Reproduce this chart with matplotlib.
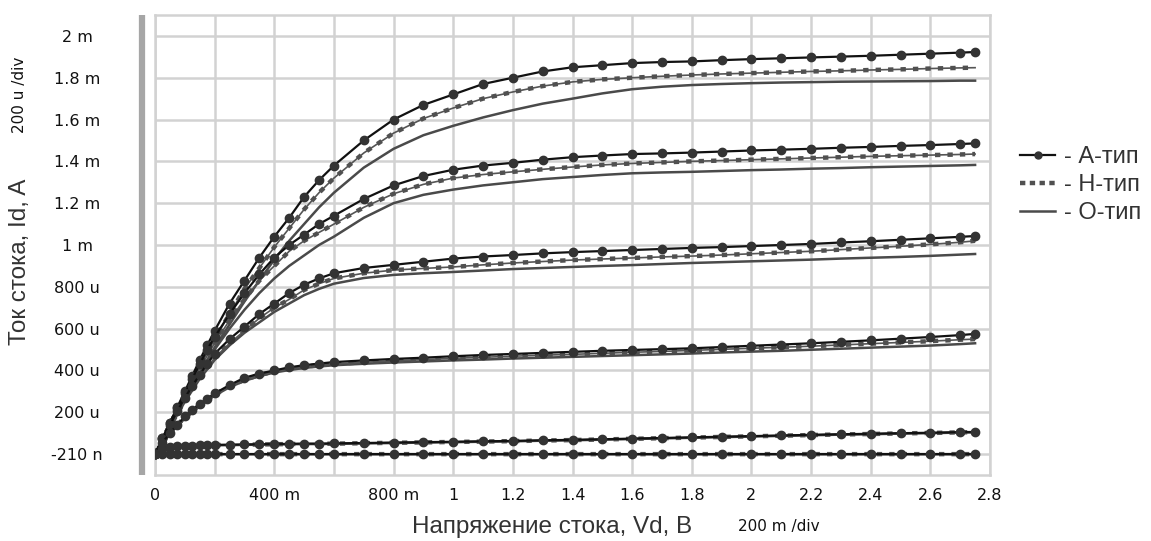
import matplotlib
matplotlib.use("Agg")
import matplotlib.pyplot as plt
from matplotlib.lines import Line2D

# напряжение стока, В
vd = [0, 0.025, 0.05, 0.075, 0.1, 0.125, 0.15, 0.175, 0.2, 0.25, 0.3, 0.35, 0.4, 0.45, 0.5,
      0.55, 0.6, 0.7, 0.8, 0.9, 1.0, 1.1, 1.2, 1.3, 1.4, 1.5, 1.6, 1.7, 1.8, 1.9, 2.0, 2.1,
      2.2, 2.3, 2.4, 2.5, 2.6, 2.7, 2.75]

# ток стока, мА  (6 значений Vg, три типа модели)
a_curves = [
    [0, 0.075, 0.15, 0.225, 0.30, 0.375, 0.45, 0.52, 0.59, 0.72, 0.83, 0.94, 1.04, 1.13, 1.23,
     1.31, 1.38, 1.50, 1.60, 1.67, 1.72, 1.77, 1.80, 1.83, 1.85, 1.86, 1.87, 1.875, 1.878, 1.884,
     1.889, 1.893, 1.897, 1.901, 1.905, 1.910, 1.915, 1.920, 1.923],
    [0, 0.075, 0.15, 0.22, 0.29, 0.36, 0.43, 0.50, 0.56, 0.67, 0.77, 0.86, 0.94, 1.00, 1.05,
     1.10, 1.14, 1.22, 1.285, 1.33, 1.36, 1.38, 1.393, 1.408, 1.42, 1.428, 1.435, 1.438, 1.442,
     1.447, 1.452, 1.456, 1.46, 1.465, 1.469, 1.474, 1.478, 1.483, 1.486],
    [0, 0.07, 0.14, 0.205, 0.27, 0.325, 0.38, 0.43, 0.48, 0.55, 0.61, 0.67, 0.72, 0.77, 0.81,
     0.84, 0.865, 0.89, 0.905, 0.92, 0.935, 0.945, 0.952, 0.96, 0.966, 0.971, 0.976, 0.981, 0.986,
     0.99, 0.995, 1.0, 1.005, 1.012, 1.018, 1.025, 1.032, 1.039, 1.043],
    [0, 0.055, 0.10, 0.14, 0.18, 0.21, 0.24, 0.265, 0.29, 0.33, 0.365, 0.385, 0.40, 0.415, 0.425,
     0.433, 0.44, 0.448, 0.455, 0.461, 0.468, 0.474, 0.479, 0.484, 0.489, 0.494, 0.498, 0.502,
     0.506, 0.512, 0.518, 0.524, 0.53, 0.537, 0.544, 0.552, 0.56, 0.569, 0.575],
    [0, 0.025, 0.035, 0.038, 0.040, 0.041, 0.042, 0.043, 0.044, 0.045, 0.046, 0.047, 0.048, 0.049,
     0.050, 0.050, 0.051, 0.053, 0.055, 0.057, 0.059, 0.061, 0.063, 0.066, 0.068, 0.071, 0.074,
     0.077, 0.080, 0.083, 0.086, 0.089, 0.092, 0.095, 0.097, 0.100, 0.102, 0.105, 0.106],
    [0, -0.0002, -0.0002, -0.0002, -0.0002, -0.0002, -0.0002, -0.0002, -0.0002, -0.0002, -0.0002,
     -0.0002, -0.0002, -0.0002, -0.0002, -0.0002, -0.0002, -0.0002, -0.0002, -0.0002, -0.0002,
     -0.0002, -0.0002, -0.0002, -0.0002, -0.0002, -0.0002, -0.0002, -0.0002, -0.0002, -0.0002,
     -0.0002, -0.0002, -0.0002, -0.0002, -0.0002, -0.0002, -0.0002, -0.0002],
]
h_curves = [
    [0, 0.07, 0.14, 0.21, 0.28, 0.35, 0.42, 0.485, 0.55, 0.67, 0.79, 0.89, 0.99, 1.08, 1.17,
     1.25, 1.32, 1.44, 1.535, 1.605, 1.655, 1.70, 1.732, 1.76, 1.78, 1.792, 1.80, 1.807, 1.813,
     1.818, 1.822, 1.826, 1.83, 1.833, 1.837, 1.84, 1.844, 1.847, 1.848],
    [0, 0.07, 0.14, 0.21, 0.28, 0.345, 0.41, 0.47, 0.53, 0.64, 0.74, 0.83, 0.90, 0.97, 1.02,
     1.06, 1.10, 1.18, 1.245, 1.29, 1.32, 1.337, 1.35, 1.362, 1.373, 1.383, 1.39, 1.395, 1.40,
     1.404, 1.408, 1.412, 1.416, 1.42, 1.424, 1.427, 1.43, 1.433, 1.435],
    [0, 0.065, 0.13, 0.195, 0.26, 0.315, 0.37, 0.415, 0.46, 0.53, 0.59, 0.65, 0.70, 0.74, 0.785,
     0.815, 0.84, 0.865, 0.88, 0.888, 0.895, 0.905, 0.914, 0.921, 0.928, 0.933, 0.938, 0.943,
     0.947, 0.952, 0.958, 0.964, 0.97, 0.978, 0.986, 0.994, 1.003, 1.013, 1.02],
    [0, 0.055, 0.10, 0.14, 0.175, 0.205, 0.235, 0.26, 0.285, 0.325, 0.355, 0.378, 0.395, 0.408,
     0.418, 0.425, 0.431, 0.439, 0.446, 0.452, 0.458, 0.463, 0.468, 0.473, 0.477, 0.482, 0.487,
     0.491, 0.496, 0.501, 0.506, 0.511, 0.516, 0.522, 0.528, 0.534, 0.54, 0.547, 0.55],
    [0, 0.024, 0.034, 0.037, 0.039, 0.040, 0.041, 0.042, 0.043, 0.044, 0.045, 0.046, 0.047, 0.048,
     0.049, 0.049, 0.050, 0.052, 0.054, 0.056, 0.058, 0.060, 0.062, 0.065, 0.067, 0.070, 0.073,
     0.076, 0.079, 0.082, 0.085, 0.088, 0.091, 0.094, 0.096, 0.099, 0.101, 0.104, 0.105],
    [0, -0.0002, -0.0002, -0.0002, -0.0002, -0.0002, -0.0002, -0.0002, -0.0002, -0.0002, -0.0002,
     -0.0002, -0.0002, -0.0002, -0.0002, -0.0002, -0.0002, -0.0002, -0.0002, -0.0002, -0.0002,
     -0.0002, -0.0002, -0.0002, -0.0002, -0.0002, -0.0002, -0.0002, -0.0002, -0.0002, -0.0002,
     -0.0002, -0.0002, -0.0002, -0.0002, -0.0002, -0.0002, -0.0002, -0.0002],
]
o_curves = [
    [0, 0.065, 0.13, 0.195, 0.26, 0.325, 0.39, 0.45, 0.51, 0.62, 0.73, 0.83, 0.93, 1.02, 1.10,
     1.18, 1.25, 1.37, 1.46, 1.525, 1.57, 1.61, 1.645, 1.676, 1.70, 1.725, 1.745, 1.757, 1.765,
     1.77, 1.774, 1.777, 1.779, 1.781, 1.782, 1.783, 1.784, 1.786, 1.786],
    [0, 0.065, 0.13, 0.195, 0.26, 0.32, 0.38, 0.44, 0.50, 0.60, 0.69, 0.77, 0.84, 0.90, 0.95,
     1.00, 1.04, 1.13, 1.20, 1.24, 1.265, 1.285, 1.30, 1.315, 1.325, 1.335, 1.343, 1.347, 1.35,
     1.354, 1.358, 1.361, 1.365, 1.368, 1.372, 1.375, 1.378, 1.381, 1.383],
    [0, 0.065, 0.13, 0.19, 0.25, 0.305, 0.36, 0.405, 0.45, 0.52, 0.58, 0.63, 0.68, 0.72, 0.76,
     0.79, 0.815, 0.842, 0.857, 0.865, 0.871, 0.878, 0.885, 0.89, 0.895, 0.90, 0.904, 0.909,
     0.914, 0.918, 0.922, 0.926, 0.93, 0.935, 0.939, 0.943, 0.948, 0.954, 0.957],
    [0, 0.05, 0.095, 0.135, 0.17, 0.20, 0.23, 0.255, 0.28, 0.32, 0.35, 0.373, 0.39, 0.402, 0.412,
     0.419, 0.425, 0.432, 0.438, 0.443, 0.448, 0.452, 0.457, 0.461, 0.465, 0.469, 0.473, 0.477,
     0.481, 0.486, 0.49, 0.494, 0.499, 0.504, 0.509, 0.514, 0.519, 0.526, 0.53],
    [0, 0.023, 0.033, 0.036, 0.038, 0.039, 0.040, 0.041, 0.042, 0.043, 0.044, 0.045, 0.046, 0.047,
     0.048, 0.048, 0.049, 0.051, 0.053, 0.055, 0.057, 0.059, 0.061, 0.064, 0.066, 0.069, 0.072,
     0.075, 0.078, 0.081, 0.084, 0.087, 0.090, 0.093, 0.095, 0.098, 0.100, 0.103, 0.104],
    [0, -0.0002, -0.0002, -0.0002, -0.0002, -0.0002, -0.0002, -0.0002, -0.0002, -0.0002, -0.0002,
     -0.0002, -0.0002, -0.0002, -0.0002, -0.0002, -0.0002, -0.0002, -0.0002, -0.0002, -0.0002,
     -0.0002, -0.0002, -0.0002, -0.0002, -0.0002, -0.0002, -0.0002, -0.0002, -0.0002, -0.0002,
     -0.0002, -0.0002, -0.0002, -0.0002, -0.0002, -0.0002, -0.0002, -0.0002],
]

x_ticks = [0, 0.2, 0.4, 0.6, 0.8, 1.0, 1.2, 1.4, 1.6, 1.8, 2.0, 2.2, 2.4, 2.6, 2.8]
x_labels = ["0", "", "400 m", "", "800 m", "1", "1.2", "1.4", "1.6", "1.8", "2", "2.2", "2.4", "2.6", "2.8"]
y_ticks = [-0.00021, 0.2, 0.4, 0.6, 0.8, 1.0, 1.2, 1.4, 1.6, 1.8, 2.0]
y_labels = ["-210 n", "200 u", "400 u", "600 u", "800 u", "1 m", "1.2 m", "1.4 m", "1.6 m", "1.8 m", "2 m"]

grid_c = "#d2d2d2"
W, H = 1151, 541
fig = plt.figure(figsize=(W / 100, H / 100), dpi=100)
ax = fig.add_axes([155 / W, 66 / H, 835 / W, 460 / H])

# О-тип
for y in o_curves:
    ax.plot(vd, y, color="#4a4a4a", lw=1.8, zorder=3)
# Н-тип: тонкая линия + квадратики пунктиром
for y in h_curves:
    ax.plot(vd, y, color="#555555", lw=1.2, zorder=4)
    ax.plot(vd, y, color="#505050", lw=3.2, ls=(0, (1.2, 1.6)), dash_capstyle="butt", zorder=4)
# А-тип
for y in a_curves:
    ax.plot(vd, y, color="#111111", lw=1.6, marker="o", ms=6, mfc="#333333", mec="#333333", zorder=5)

ax.set_xlim(0, 2.8)
ax.set_ylim(-0.1, 2.1)
ax.set_xticks(x_ticks)
ax.set_xticklabels(x_labels)
ax.set_yticks(y_ticks)
ax.set_yticklabels(y_labels, ha="center")
ax.grid(True, color=grid_c, lw=1.8)
ax.set_axisbelow(True)
for s in ax.spines.values():
    s.set_color(grid_c)
    s.set_linewidth(1.8)
ax.tick_params(axis="both", length=0, labelsize=11.5, labelcolor="#111111")
ax.tick_params(axis="y", pad=56)
ax.tick_params(axis="x", pad=9)

# серая полоса слева
ax.plot([-0.0156, -0.0156], [0, 1], transform=ax.transAxes, clip_on=False,
        color="#a6a6a6", lw=4.5, solid_capstyle="butt")

lab_font = "Liberation Sans"
fig.text(20 / W, 1 - 262 / H, "Ток стока, Id, A", rotation=90, ha="center", va="center",
         fontsize=17.5, family=lab_font, color="#333333")
fig.text(20 / W, 1 - 95 / H, "200 u /div", rotation=90, ha="center", va="center",
         fontsize=11, color="#111111")
fig.text(552 / W, 1 - 527 / H, "Напряжение стока, Vd, B", ha="center", va="center",
         fontsize=17.5, family=lab_font, color="#333333")
fig.text(779 / W, 1 - 527 / H, "200 m /div", ha="center", va="center",
         fontsize=11, color="#111111")

handles = [
    Line2D([], [], color="#111111", lw=1.6, marker="o", ms=5, mfc="#333333", mec="#333333"),
    Line2D([], [], color="#505050", lw=3.2, ls=(0, (1.2, 1.0)), dash_capstyle="butt"),
    Line2D([], [], color="#4a4a4a", lw=1.8),
]
fig.legend(handles, ["- А-тип", "- Н-тип", "- О-тип"], loc="upper left",
           bbox_to_anchor=(1020 / W, 1 - 146 / H), frameon=False,
           prop={"family": lab_font, "size": 17}, labelcolor="#333333",
           handlelength=1.5, handletextpad=0.35, labelspacing=0.25, numpoints=1,
           borderaxespad=0, borderpad=0)

fig.savefig("out.png", dpi=100)
